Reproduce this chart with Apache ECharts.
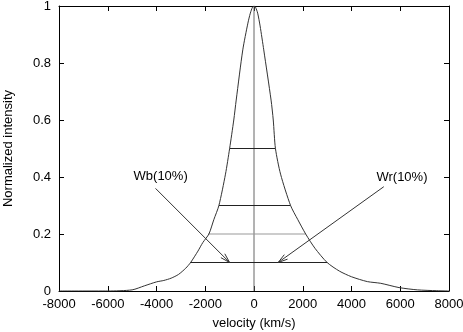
<!DOCTYPE html>
<html lang="en">
<head>
    <meta charset="UTF-8">
    <title>Line profile</title>
    <script src="https://cdn.jsdelivr.net/npm/echarts@6/dist/echarts.min.js"></script>
    <style>
        html, body { margin: 0; padding: 0; background: #fff; }
        #chart { width: 463px; height: 332px; }
    </style>
</head>
<body>
    <div id="chart"></div>
    <script>
        // profile
        const velocity = [-8000, -6000, -5000, -4500, -4000, -3700, -3400, -3100, -2800, -2600, -2300, -2100, -1850, -1650, -1440, -1170, -1000, -830, -730, -460, -250, -150, -60, 0,
                          60, 150, 250, 400, 700, 790, 880, 1090, 1500, 1800, 2120, 2500, 3000, 3500, 4000, 4650, 5200, 5950, 6700, 7500, 8000];
        const intensity = [0, 0, 0.004, 0.018, 0.032, 0.037, 0.045, 0.058, 0.08, 0.1, 0.14, 0.17, 0.2, 0.25, 0.3, 0.41, 0.5, 0.6, 0.67, 0.846, 0.94, 0.975, 0.996, 1,
                           0.996, 0.975, 0.93, 0.846, 0.67, 0.6, 0.5, 0.41, 0.3, 0.25, 0.2, 0.15, 0.1, 0.07, 0.05, 0.033, 0.027, 0.012, 0.004, 0.001, 0];

        // width levels
        const levels = [0.5, 0.3, 0.2, 0.1];
        const levelLeft = [-1000, -1440, -1880, -2620];
        const levelRight = [880, 1500, 2120, 3000];
        const levelColors = ['#222', '#222', '#999', '#222'];

        // annotations
        const arrowLabels = ['Wb(10%)', 'Wr(10%)'];
        const labelX = [-3830, 6070];
        const labelY = [0.403, 0.40];
        const arrowFromX = [-4040, 5325];
        const arrowFromY = [0.36, 0.366];
        const arrowToX = [-1000, 990];
        const arrowToY = [0.1, 0.1];

        const xTicks = { min: -8000, max: 8000, interval: 2000 };
        const yTicks = { min: 0, max: 1, interval: 0.2 };

        const font = 'Liberation Sans, Arial, Helvetica, sans-serif';
        const chart = echarts.init(document.getElementById('chart'), null, { renderer: 'canvas' });

        const axisBase = {
            type: 'value',
            axisLine: { show: true, onZero: false, lineStyle: { color: '#000', width: 1 } },
            axisTick: { show: true, inside: true, length: 5, lineStyle: { color: '#000' } },
            splitLine: { show: false }
        };

        const levelSeries = levels.map((y, i) => ({
            type: 'line',
            data: [[levelLeft[i], y], [levelRight[i], y]],
            symbol: 'none',
            silent: true,
            lineStyle: { color: levelColors[i], width: 1 },
            z: 3
        }));

        const arrowData = arrowLabels.map((t, i) => [arrowFromX[i], arrowFromY[i], arrowToX[i], arrowToY[i], labelX[i], labelY[i], t]);

        chart.setOption({
            animation: false,
            grid: { left: 59, right: 14, top: 6, bottom: 41, containLabel: false, outerBoundsMode: 'none' },
            xAxis: [
                Object.assign({}, axisBase, xTicks, {
                    position: 'bottom',
                    name: 'velocity (km/s)',
                    nameLocation: 'middle',
                    nameGap: 26,
                    nameTextStyle: { color: '#000', fontFamily: font, fontSize: 13 },
                    axisLabel: { color: '#000', fontFamily: font, fontSize: 13, margin: 7, formatter: v => String(v) }
                }),
                Object.assign({}, axisBase, xTicks, { position: 'top', axisLabel: { show: false } })
            ],
            yAxis: [
                Object.assign({}, axisBase, yTicks, {
                    position: 'left',
                    name: 'Normalized intensity',
                    nameLocation: 'middle',
                    nameGap: 44,
                    nameTextStyle: { color: '#000', fontFamily: font, fontSize: 13 },
                    axisLabel: { color: '#000', fontFamily: font, fontSize: 13, margin: 8 }
                }),
                Object.assign({}, axisBase, yTicks, { position: 'right', axisLabel: { show: false } })
            ],
            series: [
                {
                    type: 'line',
                    data: velocity.map((v, i) => [v, intensity[i]]),
                    symbol: 'none',
                    smooth: 0.25,
                    lineStyle: { color: '#333', width: 1 },
                    z: 4
                },
                {
                    type: 'line',
                    data: [[0, 0], [0, 1]],
                    symbol: 'none',
                    lineStyle: { color: '#666', width: 1 },
                    z: 3
                },
                ...levelSeries,
                {
                    type: 'custom',
                    data: arrowData,
                    z: 5,
                    renderItem: (params, api) => {
                        const p0 = api.coord([api.value(0), api.value(1)]);
                        const p1 = api.coord([api.value(2), api.value(3)]);
                        const pt = api.coord([api.value(4), api.value(5)]);
                        const ang = Math.atan2(p1[1] - p0[1], p1[0] - p0[0]);
                        const len = 10, spread = 0.28;
                        const h1 = [p1[0] - len * Math.cos(ang - spread), p1[1] - len * Math.sin(ang - spread)];
                        const h2 = [p1[0] - len * Math.cos(ang + spread), p1[1] - len * Math.sin(ang + spread)];
                        const stroke = { stroke: '#333', lineWidth: 1, fill: null };
                        return {
                            type: 'group',
                            children: [
                                { type: 'line', shape: { x1: p0[0], y1: p0[1], x2: p1[0], y2: p1[1] }, style: stroke },
                                { type: 'polyline', shape: { points: [h1, p1, h2] }, style: stroke },
                                {
                                    type: 'text',
                                    x: pt[0], y: pt[1],
                                    style: {
                                        text: arrowData[params.dataIndex][6],
                                        fill: '#000',
                                        font: '13px ' + font,
                                        align: 'center',
                                        verticalAlign: 'middle'
                                    }
                                }
                            ]
                        };
                    }
                }
            ]
        });
    </script>
</body>
</html>
